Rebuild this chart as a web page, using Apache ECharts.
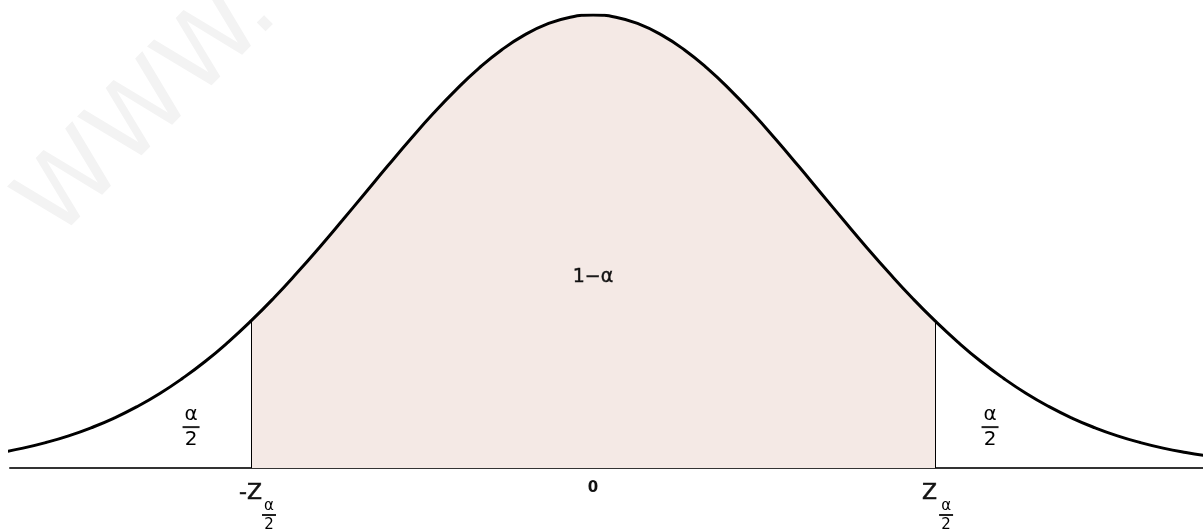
<!DOCTYPE html>
<html>
<head>
<meta charset="utf-8">
<script src="https://cdn.jsdelivr.net/npm/echarts@6/dist/echarts.min.js"></script>
<style>
html,body{margin:0;padding:0;background:#fff;}
#chart{width:1203px;height:531px;}
</style>
</head>
<body>
<div id="chart"></div>
<script>
// z positions (standard units) and curve heights
const zValues = [-2.6,-2.5,-2.4,-2.3,-2.2,-2.1,-2.0,-1.9,-1.8,-1.7,-1.6,-1.5,-1.4,-1.3,-1.2,-1.1,-1.0,-0.9,-0.8,-0.7,-0.6,-0.5,-0.4,-0.3,-0.2,-0.1,0,
  0.1,0.2,0.3,0.4,0.5,0.6,0.7,0.8,0.9,1.0,1.1,1.2,1.3,1.4,1.5,1.6,1.7,1.8,1.9,2.0,2.1,2.2,2.3,2.4,2.5,2.6,2.7];
const density = [0.0136,0.0175,0.0224,0.0283,0.0355,0.0440,0.0540,0.0656,0.0790,0.0940,0.1109,0.1295,0.1497,0.1714,0.1942,0.2179,0.2420,0.2661,0.2897,0.3123,0.3332,0.3521,0.3683,0.3814,0.3910,0.3970,0.3989,
  0.3970,0.3910,0.3814,0.3683,0.3521,0.3332,0.3123,0.2897,0.2661,0.2420,0.2179,0.1942,0.1714,0.1497,0.1295,0.1109,0.0940,0.0790,0.0656,0.0540,0.0440,0.0355,0.0283,0.0224,0.0175,0.0136,0.0104];
const criticalZ = [-1.5, 1.5];
const xRange = [-2.557, 2.675];
const yMax = 0.3989;
const centerLabel = '1\u2212\u03b1';
const tailLabelPos = [[-1.763, 0.036], [1.741, 0.036]];
const centerLabelPos = [0, 0.168];

const curve = zValues.map((z, i) => [z, density[i]]);
const middle = curve.filter(p => p[0] >= criticalZ[0] - 1e-9 && p[0] <= criticalZ[1] + 1e-9);

const chart = echarts.init(document.getElementById('chart'), null, {renderer: 'canvas'});
chart.setOption({
  animation: false,
  backgroundColor: '#ffffff',
  grid: {left: 10, right: 0, top: 15, bottom: 63},
  xAxis: {
    type: 'value', min: xRange[0], max: xRange[1],
    axisLine: {show: true, onZero: false, lineStyle: {color: '#333', width: 2}},
    axisTick: {show: false}, axisLabel: {show: false}, splitLine: {show: false}
  },
  yAxis: {
    type: 'value', min: 0, max: yMax, show: false, splitLine: {show: false}
  },
  series: [
    {
      type: 'line', data: middle, smooth: true, showSymbol: false, z: 1,
      lineStyle: {width: 0, color: '#f4e9e5'},
      areaStyle: {color: '#f4e9e5', opacity: 1},
      markLine: {
        silent: true, symbol: 'none', label: {show: false},
        lineStyle: {color: '#000', width: 1, type: 'solid'},
        data: criticalZ.map(z => [{coord: [z, 0]}, {coord: [z, density[zValues.findIndex(v => Math.abs(v - z) < 1e-9)]]}])
      }
    },
    {
      type: 'line', data: curve, smooth: true, showSymbol: false, z: 3, clip: true,
      lineStyle: {width: 3, color: '#000'}
    }
  ]
});

function px(p) { return chart.convertToPixel({gridIndex: 0}, p); }
const font = '"DejaVu Sans", sans-serif';
function fraction(cx, cy, size, barW) {
  return [
    {type: 'text', x: cx, y: cy - size * 0.1, style: {text: '\u03b1', font: size + 'px ' + font, fill: '#000', align: 'center', verticalAlign: 'bottom'}},
    {type: 'rect', shape: {x: cx - barW / 2, y: cy - 1, width: barW, height: 2}, style: {fill: '#222'}},
    {type: 'text', x: cx, y: cy + size * 0.15, style: {text: '2', font: size + 'px ' + font, fill: '#000', align: 'center', verticalAlign: 'top'}}
  ];
}

const elems = [];
// faint watermark
elems.push({type: 'text', x: 150, y: 110, rotation: 45 * Math.PI / 180, z: -10,
  style: {text: 'WWW.', font: '100px ' + font, fill: '#f3f3f3', align: 'center', verticalAlign: 'middle'}});
// center label
const c = px(centerLabelPos);
elems.push({type: 'text', x: c[0], y: c[1], z: 10, style: {text: centerLabel, font: '19px ' + font, fill: '#111', align: 'center', verticalAlign: 'middle', stroke: '#111', lineWidth: 0.4}});
// tail labels
tailLabelPos.forEach(p => { const q = px(p); fraction(q[0], q[1], 20, 17).forEach(e => elems.push(Object.assign(e, {z: 10}))); });
// axis labels
const base = px([0, 0]);
elems.push({type: 'text', x: base[0], y: base[1] + 20, z: 10, style: {text: '0', font: 'bold 15px ' + font, fill: '#111', align: 'center', verticalAlign: 'middle'}});
const lp = px([criticalZ[0], 0]);
elems.push({type: 'text', x: lp[0] + 11, y: base[1] + 25, z: 10, style: {text: '-Z', font: '22px ' + font, fill: '#111', align: 'right', verticalAlign: 'middle', stroke: '#111', lineWidth: 0.5}});
fraction(lp[0] + 18, base[1] + 47, 15, 14).forEach(e => elems.push(Object.assign(e, {z: 10})));
const rp = px([criticalZ[1], 0]);
elems.push({type: 'text', x: rp[0] + 2, y: base[1] + 25, z: 10, style: {text: 'Z', font: '22px ' + font, fill: '#111', align: 'right', verticalAlign: 'middle', stroke: '#111', lineWidth: 0.5}});
fraction(rp[0] + 11, base[1] + 47, 15, 14).forEach(e => elems.push(Object.assign(e, {z: 10})));
chart.setOption({graphic: {elements: elems}});
</script>
</body>
</html>
